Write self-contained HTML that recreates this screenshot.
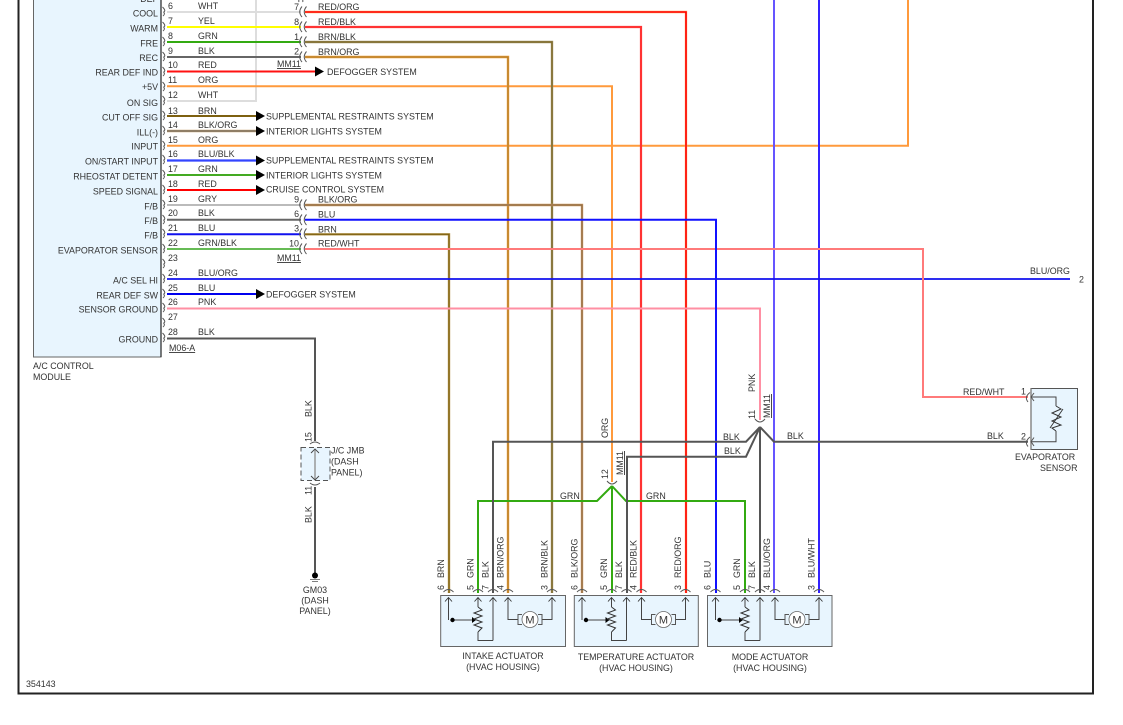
<!DOCTYPE html>
<html><head><meta charset="utf-8">
<style>
html,body{margin:0;padding:0;background:#fff;width:1123px;height:725px;overflow:hidden}
svg{display:block}
text{font-family:"Liberation Sans",sans-serif;font-size:8.9px;fill:#333}
.r{text-anchor:end}
.m{text-anchor:middle}
.u{text-decoration:underline}
path{fill:none}
path.k{fill:#000}
path.b{fill:#e8f5fe}
.c{stroke:#555;stroke-width:1}
.t{stroke:#444;stroke-width:1}
</style></head><body>
<svg width="1123" height="725" viewBox="0 0 1123 725" xmlns="http://www.w3.org/2000/svg">
<defs>
<g id="rc"><path class="c" d="M-2.500 -5Q1.500 -1 -1.500 0M-1.500 0Q0.500 2 -2 4"/></g>
<g id="mc"><path class="c" d="M4 -5.500Q-0.500 0 4 5M8.500 -5.500Q4 0 8.500 5"/></g>
<path id="tri" class="k" d="M0 -5L9 0L0 5Z"/>
<g id="act">
<path class="t" d="M448.500 620V598M478 607V598M493 640.500V598M478 632V640.500H493M508 598V619.500H518M542 619.500H552V598M452.500 620H475"/>
<path d="M445 601.500L448.500 597.500L452 601.500M474.500 601.500L478 597.500L481.500 601.500M489.500 601.500L493 597.500L496.500 601.500M504.500 601.500L508 597.500L511.500 601.500M548.500 601.500L552 597.500L555.500 601.500" stroke="#333" stroke-width="0.900"/>
<circle cx="452.500" cy="620" r="2.200" fill="#000"/>
<path class="k" d="M472 617L476 620L472 623Z"/>
<path d="M478 607L482 610L474 613L482 616L474 619L482 622L474 625L482 628L478 632" stroke="#333" stroke-width="1"/>
<circle cx="530" cy="619.500" r="8" fill="#fff" stroke="#666" stroke-width="0.800"/>
<path d="M522 614.500H518V624.500H522M538 614.500H542V624.500H538" stroke="#555" stroke-width="1"/>
<text x="530" y="623.500" class="m" style="font-size:11px">M</text>
<path class="c" d="M443.500 592Q448.500 587 453.500 592M473 592Q478 587 483 592M488 592Q493 587 498 592M503 592Q508 587 513 592M547 592Q552 587 557 592"/>
</g>
</defs>

<rect x="18.500" y="-10" width="1074.500" height="703.500" fill="#fff" stroke="#222" stroke-width="2"/>

<!-- A/C module -->
<path class="b" d="M33.500 -5V357H161V-5Z" stroke="#666" stroke-width="1"/>
<path d="M161 -5V357" stroke="#222" stroke-width="1.200"/>

<!-- left wires -->
<path d="M256 -2V101H167" stroke="#ddd" stroke-width="2"/>
<path d="M167 12H301" stroke="#ddd" stroke-width="2"/>
<path d="M167 27H301" stroke="#ffff00" stroke-width="2"/>
<path d="M167 42H301" stroke="#33aa11" stroke-width="2"/>
<path d="M167 57H301" stroke="#666" stroke-width="2"/>
<path d="M167 71.500H316" stroke="#ff1111" stroke-width="2"/>
<path d="M167 116H257" stroke="#7d6010" stroke-width="2"/>
<path d="M167 131H257" stroke="#c9a878" stroke-width="2.400"/><path d="M167 131H257" stroke="#555" stroke-width="1"/>
<path d="M167 160.500H257" stroke="#3344ff" stroke-width="2.200"/>
<path d="M167 175H257" stroke="#44aa22" stroke-width="2"/>
<path d="M167 190H257" stroke="#ff0000" stroke-width="2"/>
<path d="M167 205H301" stroke="#bbb" stroke-width="2"/>
<path d="M167 219.700H301" stroke="#666" stroke-width="2"/>
<path d="M167 234.300H301" stroke="#1111ee" stroke-width="2"/>
<path d="M167 249H301" stroke="#66bb55" stroke-width="2"/>
<path d="M167 294H257" stroke="#0000ee" stroke-width="2"/>

<!-- long wires -->
<path d="M167 145.700H908V-2" stroke="#ff9a3c" stroke-width="2"/>
<path d="M167 86.300H612V482" stroke="#ff9a3c" stroke-width="2"/>
<path d="M305 12H686V593" stroke="#ffb070" stroke-width="2.400"/><path d="M305 12H686V593" stroke="#ff0000" stroke-width="1.600"/>
<path d="M305 27H641V593" stroke="#ff3333" stroke-width="2.200"/>
<path d="M305 42H552V593" stroke="#a89a70" stroke-width="2.400"/><path d="M305 42H552V593" stroke="#7d6a2a" stroke-width="1.400"/>
<path d="M305 57H508V593" stroke="#f09a30" stroke-width="2.400"/><path d="M305 57H508V593" stroke="#a07a30" stroke-width="1"/>
<path d="M305 205H582V593" stroke="#cf9a60" stroke-width="2.400"/><path d="M305 205H582V593" stroke="#8a6a45" stroke-width="1.200"/>
<path d="M305 234.300H449V593" stroke="#b89a50" stroke-width="2.400"/><path d="M305 234.300H449V593" stroke="#7d6010" stroke-width="1.200"/>
<path d="M774 -2V593" stroke="#6655ff" stroke-width="2"/>
<path d="M819 -2V593" stroke="#3322ff" stroke-width="2"/>
<path d="M167 279H1070" stroke="#1111ee" stroke-width="1.800"/>
<path d="M167 308.500H760V420" stroke="#ff8fa3" stroke-width="2"/>
<path d="M305 249H923V397H1028" stroke="#ff7a7a" stroke-width="2"/>
<path d="M305 219.700H716V593" stroke="#1111ff" stroke-width="2"/>
<path d="M167 338.500H315V441" stroke="#555" stroke-width="2"/>
<path d="M315 487V573" stroke="#555" stroke-width="2"/>

<!-- green net -->
<path d="M612 486L597 501H478V593M612 486L626 501H745V593M612 486V593" stroke="#33aa11" stroke-width="2"/>
<!-- black net -->
<path d="M760 427L746 441.700H493V593M760 427L746 456.700H627V593M760 427L774 441.700H1028M760 427V593" stroke="#555" stroke-width="2"/>

<!-- arrowheads -->
<use href="#tri" x="315" y="71.500"/>
<use href="#tri" x="256" y="116"/><use href="#tri" x="256" y="131"/><use href="#tri" x="256" y="160.500"/>
<use href="#tri" x="256" y="175"/><use href="#tri" x="256" y="190"/><use href="#tri" x="256" y="294"/>

<!-- connector marks left -->
<use href="#rc" x="165" y="12"/><use href="#rc" x="165" y="27"/><use href="#rc" x="165" y="42"/><use href="#rc" x="165" y="57"/>
<use href="#rc" x="165" y="72"/><use href="#rc" x="165" y="87"/><use href="#rc" x="165" y="101"/><use href="#rc" x="165" y="116"/>
<use href="#rc" x="165" y="131"/><use href="#rc" x="165" y="146"/><use href="#rc" x="165" y="160"/><use href="#rc" x="165" y="175"/>
<use href="#rc" x="165" y="190"/><use href="#rc" x="165" y="205"/><use href="#rc" x="165" y="220"/><use href="#rc" x="165" y="234"/>
<use href="#rc" x="165" y="249"/><use href="#rc" x="165" y="264"/><use href="#rc" x="165" y="279"/><use href="#rc" x="165" y="294"/>
<use href="#rc" x="165" y="308"/><use href="#rc" x="165" y="323"/><use href="#rc" x="165" y="338"/>
<!-- connector marks MM11 -->
<use href="#mc" x="298" y="12"/><use href="#mc" x="298" y="27"/><use href="#mc" x="298" y="42"/><use href="#mc" x="298" y="57"/>
<use href="#mc" x="298" y="205"/><use href="#mc" x="298" y="220"/><use href="#mc" x="298" y="234"/><use href="#mc" x="298" y="249"/>
<path class="c" d="M301 -3Q298 0 299 2M305 -3Q302 0 303 2"/>

<!-- module pin labels -->
<text class="r" x="158" y="2">DEF</text>
<text class="r" x="158" y="16.500">COOL</text>
<text class="r" x="158" y="31.500">WARM</text>
<text class="r" x="158" y="46.500">FRE</text>
<text class="r" x="158" y="61">REC</text>
<text class="r" x="158" y="75.500">REAR DEF IND</text>
<text class="r" x="158" y="90">+5V</text>
<text class="r" x="158" y="106">ON SIG</text>
<text class="r" x="158" y="120.500">CUT OFF SIG</text>
<text class="r" x="158" y="135.500">ILL(-)</text>
<text class="r" x="158" y="149.500">INPUT</text>
<text class="r" x="158" y="164.500">ON/START INPUT</text>
<text class="r" x="158" y="179.500">RHEOSTAT DETENT</text>
<text class="r" x="158" y="194.500">SPEED SIGNAL</text>
<text class="r" x="158" y="209.500">F/B</text>
<text class="r" x="158" y="224">F/B</text>
<text class="r" x="158" y="238.500">F/B</text>
<text class="r" x="158" y="253.500">EVAPORATOR SENSOR</text>
<text class="r" x="158" y="283.500">A/C SEL HI</text>
<text class="r" x="158" y="298.500">REAR DEF SW</text>
<text class="r" x="158" y="312.500">SENSOR GROUND</text>
<text class="r" x="158" y="342.500">GROUND</text>

<!-- pin numbers + colours -->
<text x="168" y="9.200">6</text><text x="198" y="9.200">WHT</text>
<text x="168" y="24.200">7</text><text x="198" y="24.200">YEL</text>
<text x="168" y="39.200">8</text><text x="198" y="39.200">GRN</text>
<text x="168" y="54.200">9</text><text x="198" y="54.200">BLK</text>
<text x="168" y="68.200">10</text><text x="198" y="68.200">RED</text>
<text x="168" y="83.200">11</text><text x="198" y="83.200">ORG</text>
<text x="168" y="98.200">12</text><text x="198" y="98.200">WHT</text>
<text x="168" y="114.200">13</text><text x="198" y="114.200">BRN</text>
<text x="168" y="128.200">14</text><text x="198" y="128.200">BLK/ORG</text>
<text x="168" y="143.200">15</text><text x="198" y="143.200">ORG</text>
<text x="168" y="157.200">16</text><text x="198" y="157.200">BLU/BLK</text>
<text x="168" y="172.200">17</text><text x="198" y="172.200">GRN</text>
<text x="168" y="187.200">18</text><text x="198" y="187.200">RED</text>
<text x="168" y="202.200">19</text><text x="198" y="202.200">GRY</text>
<text x="168" y="216.200">20</text><text x="198" y="216.200">BLK</text>
<text x="168" y="231.200">21</text><text x="198" y="231.200">BLU</text>
<text x="168" y="246.200">22</text><text x="198" y="246.200">GRN/BLK</text>
<text x="168" y="261.200">23</text>
<text x="168" y="276.200">24</text><text x="198" y="276.200">BLU/ORG</text>
<text x="168" y="291.200">25</text><text x="198" y="291.200">BLU</text>
<text x="168" y="305.200">26</text><text x="198" y="305.200">PNK</text>
<text x="168" y="320.200">27</text>
<text x="168" y="335.200">28</text><text x="198" y="335.200">BLK</text>

<!-- MM11 numbers -->
<text class="r" x="299" y="10">7</text><text class="r" x="299" y="25">8</text><text class="r" x="299" y="40">1</text><text class="r" x="299" y="54.500">2</text>
<text class="r" x="299" y="202.500">9</text><text class="r" x="299" y="217">6</text><text class="r" x="299" y="231.500">3</text><text class="r" x="299" y="246.500">10</text>
<text x="318" y="10">RED/ORG</text><text x="318" y="25">RED/BLK</text><text x="318" y="40">BRN/BLK</text><text x="318" y="55">BRN/ORG</text>
<text x="318" y="202.500">BLK/ORG</text><text x="318" y="217.500">BLU</text><text x="318" y="232.500">BRN</text><text x="318" y="246.500">RED/WHT</text>
<text class="u" x="277" y="67">MM11</text><text class="u" x="277" y="261">MM11</text>
<text class="u" x="169" y="351">M06-A</text>

<!-- destinations -->
<text x="327" y="75">DEFOGGER SYSTEM</text>
<text x="266" y="119.500">SUPPLEMENTAL RESTRAINTS SYSTEM</text>
<text x="266" y="134.500">INTERIOR LIGHTS SYSTEM</text>
<text x="266" y="163.500">SUPPLEMENTAL RESTRAINTS SYSTEM</text>
<text x="266" y="178.500">INTERIOR LIGHTS SYSTEM</text>
<text x="266" y="192.500">CRUISE CONTROL SYSTEM</text>
<text x="266" y="297.500">DEFOGGER SYSTEM</text>
<text x="1030" y="274">BLU/ORG</text><text x="1079" y="282.500">2</text>
<text x="33" y="369">A/C CONTROL</text><text x="33" y="380">MODULE</text>
<text x="26" y="687">354143</text>

<!-- J/C JMB -->
<rect x="301" y="447.500" width="29" height="33" fill="#e8f5fe" stroke="#555" stroke-width="1" stroke-dasharray="5 3"/>
<path d="M315 449V480" stroke="#999" stroke-width="1.500"/>
<path d="M311 453L315 449L319 453M311 476L315 480L319 476" stroke="#444" stroke-width="0.900"/>
<path class="c" d="M310 444Q315 440 320 444M310 483Q315 487 320 483"/>
<text x="331" y="453.500">J/C JMB</text><text x="331" y="464.500">(DASH</text><text x="331" y="475.500">PANEL)</text>
<text transform="translate(311.500,417) rotate(-90)">BLK</text>
<text transform="translate(311.500,442) rotate(-90)">15</text>
<text transform="translate(311.500,495) rotate(-90)">11</text>
<text transform="translate(311.500,523) rotate(-90)">BLK</text>
<circle cx="315" cy="575.500" r="3" fill="#000"/>
<path d="M310 579.500H320M312 581.500H318" stroke="#555" stroke-width="0.800"/>
<text class="m" x="315" y="593">GM03</text><text class="m" x="315" y="603.500">(DASH</text><text class="m" x="315" y="614">PANEL)</text>

<!-- Junction labels -->
<text transform="translate(608,438) rotate(-90)">ORG</text>
<text transform="translate(608,479) rotate(-90)">12</text>
<text class="u" transform="translate(623,475) rotate(-90)">MM11</text>
<text transform="translate(755,392) rotate(-90)">PNK</text>
<text transform="translate(755,419) rotate(-90)">11</text>
<text class="u" transform="translate(770,418) rotate(-90)">MM11</text>
<path class="c" d="M755 419Q760 425 765 419M607 481Q612 487 617 481"/>
<text x="723" y="440">BLK</text><text x="724" y="454">BLK</text><text x="787" y="439">BLK</text><text x="987" y="439">BLK</text>
<text x="963" y="395">RED/WHT</text><text x="560" y="499">GRN</text><text x="646" y="499">GRN</text>
<text x="1021" y="394.500">1</text><text x="1021" y="439.500">2</text>

<!-- Evaporator sensor -->
<rect x="1031" y="388.500" width="46.500" height="61" fill="#e8f5fe" stroke="#555" stroke-width="1"/>
<path d="M1031 388.500V449.500" stroke="#888" stroke-width="1.500"/>
<path class="t" d="M1031 397H1056V406M1056 431V441.700H1031"/>
<path d="M1056 406L1061 409L1052 413L1061 417L1052 421L1061 425L1052 428L1056 431" stroke="#333" stroke-width="1"/>
<path d="M1050 428L1063 409" stroke="#333" stroke-width="0.900"/>
<path class="c" d="M1030 392.500Q1024 397 1028 402M1030 437Q1024 441.700 1028 446.500M1034 393L1031 397L1034 401M1034 437.500L1031 441.700L1034 446"/>
<text x="1015" y="460">EVAPORATOR</text><text class="r" x="1077.500" y="471">SENSOR</text>

<!-- Actuators -->
<rect x="440.700" y="595.500" width="124.800" height="51" fill="#e8f5fe" stroke="#666" stroke-width="1"/>
<rect x="574.300" y="595.500" width="124" height="51" fill="#e8f5fe" stroke="#666" stroke-width="1"/>
<rect x="707.500" y="595.500" width="124.500" height="51" fill="#e8f5fe" stroke="#666" stroke-width="1"/>
<use href="#act"/>
<use href="#act" x="133.500"/>
<use href="#act" x="267"/>
<text class="m" x="503" y="659">INTAKE ACTUATOR</text><text class="m" x="503" y="670">(HVAC HOUSING)</text>
<text class="m" x="636" y="660">TEMPERATURE ACTUATOR</text><text class="m" x="636" y="671">(HVAC HOUSING)</text>
<text class="m" x="770" y="660">MODE ACTUATOR</text><text class="m" x="770" y="671">(HVAC HOUSING)</text>

<!-- Rotated pin labels -->
<text transform="translate(444,590) rotate(-90)">6</text><text transform="translate(444,578) rotate(-90)">BRN</text>
<text transform="translate(473.500,590) rotate(-90)">5</text><text transform="translate(473.500,578) rotate(-90)">GRN</text>
<text transform="translate(488.500,590) rotate(-90)">7</text><text transform="translate(488.500,578) rotate(-90)">BLK</text>
<text transform="translate(503.500,590) rotate(-90)">4</text><text transform="translate(503.500,578) rotate(-90)">BRN/ORG</text>
<text transform="translate(547.500,590) rotate(-90)">3</text><text transform="translate(547.500,578) rotate(-90)">BRN/BLK</text>

<text transform="translate(577.500,590) rotate(-90)">6</text><text transform="translate(577.500,578) rotate(-90)">BLK/ORG</text>
<text transform="translate(607,590) rotate(-90)">5</text><text transform="translate(607,578) rotate(-90)">GRN</text>
<text transform="translate(622,590) rotate(-90)">7</text><text transform="translate(622,578) rotate(-90)">BLK</text>
<text transform="translate(636.500,590) rotate(-90)">4</text><text transform="translate(636.500,578) rotate(-90)">RED/BLK</text>
<text transform="translate(681,590) rotate(-90)">3</text><text transform="translate(681,578) rotate(-90)">RED/ORG</text>

<text transform="translate(710.500,590) rotate(-90)">6</text><text transform="translate(710.500,578) rotate(-90)">BLU</text>
<text transform="translate(740,590) rotate(-90)">5</text><text transform="translate(740,578) rotate(-90)">GRN</text>
<text transform="translate(755,590) rotate(-90)">7</text><text transform="translate(755,578) rotate(-90)">BLK</text>
<text transform="translate(770,590) rotate(-90)">4</text><text transform="translate(770,578) rotate(-90)">BLU/ORG</text>
<text transform="translate(814.500,590) rotate(-90)">3</text><text transform="translate(814.500,578) rotate(-90)">BLU/WHT</text>
</svg>
</body></html>
